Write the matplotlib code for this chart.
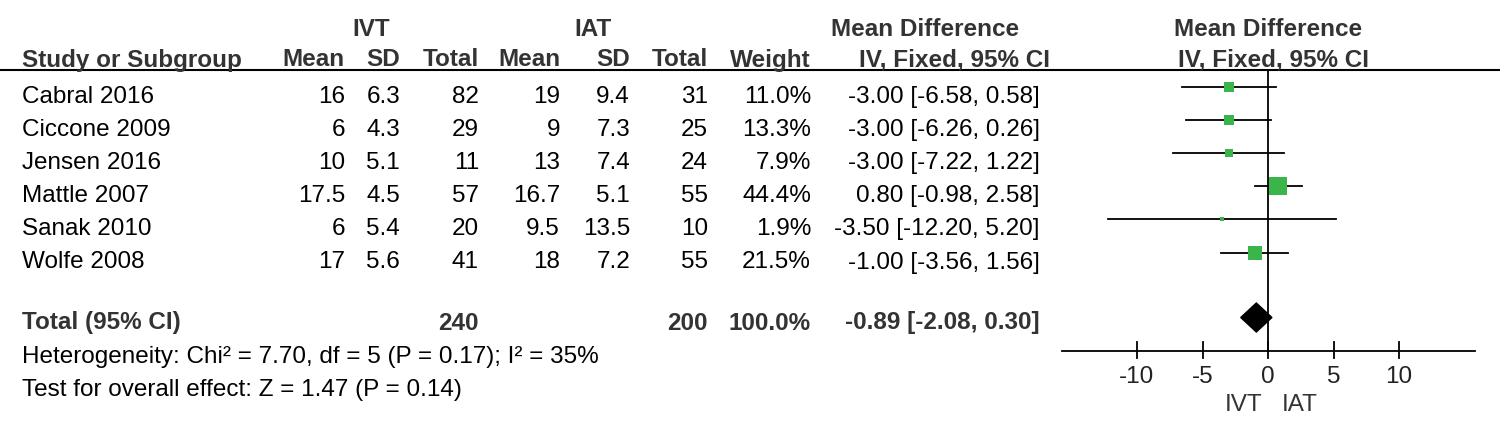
import matplotlib.pyplot as plt
from matplotlib.patches import Polygon

plt.rcParams['font.family'] = ['Liberation Sans', 'DejaVu Sans']

# === Data ===
studies = ["Cabral 2016", "Ciccone 2009", "Jensen 2016", "Mattle 2007", "Sanak 2010", "Wolfe 2008"]
ivt_mean = ["16", "6", "10", "17.5", "6", "17"]
ivt_sd = ["6.3", "4.3", "5.1", "4.5", "5.4", "5.6"]
ivt_total = [82, 29, 11, 57, 20, 41]
iat_mean = ["19", "9", "13", "16.7", "9.5", "18"]
iat_sd = ["9.4", "7.3", "7.4", "5.1", "13.5", "7.2"]
iat_total = [31, 25, 24, 55, 10, 55]
weight = [11.0, 13.3, 7.9, 44.4, 1.9, 21.5]
md = [-3.00, -3.00, -3.00, 0.80, -3.50, -1.00]
ci_lo = [-6.58, -6.26, -7.22, -0.98, -12.20, -3.56]
ci_hi = [0.58, 0.26, 1.22, 2.58, 5.20, 1.56]

total_md, total_lo, total_hi = -0.89, -2.08, 0.30
heterogeneity = "Heterogeneity: Chi² = 7.70, df = 5 (P = 0.17); I² = 35%"
overall = "Test for overall effect: Z = 1.47 (P = 0.14)"
x_ticks = [-10, -5, 0, 5, 10]

# === Figure (pixel-coordinate table axes) ===
W, H = 1500, 429
fig = plt.figure(figsize=(W / 100, H / 100), dpi=100)
ax = fig.add_axes([0, 0, 1, 1])
ax.set_xlim(0, W)
ax.set_ylim(H, 0)
ax.axis('off')

fs = 17.5
hdr = '#333333'
bold = dict(fontsize=fs, fontweight='bold', color=hdr, va='center')
reg = dict(fontsize=fs, color='black', va='center')

# === Headers ===
ax.text(371, 29, "IVT", ha='center', **bold)
ax.text(593, 29, "IAT", ha='center', **bold)
ax.text(925, 29, "Mean Difference", ha='center', **bold)
ax.text(1268, 29, "Mean Difference", ha='center', **bold)

ax.text(22, 60, "Study or Subgroup", ha='left', **bold)
col_right = [345, 400, 479, 560, 630, 708, 811]
for x, lab in zip(col_right, ["Mean", "SD", "Total", "Mean", "SD", "Total", "Weight"]):
    ax.text(x, 60, lab, ha='right', **bold)
ax.text(1050, 60, "IV, Fixed, 95% CI", ha='right', **bold)
ax.text(1274, 60, "IV, Fixed, 95% CI", ha='center', **bold)
ax.plot([0, W], [69.5, 69.5], color='black', lw=1.5)

# === Study rows ===
row0, step = 97, 33.1
for i, s in enumerate(studies):
    y = row0 + i * step
    ax.text(22, y, s, ha='left', **reg)
    vals = [ivt_mean[i], ivt_sd[i], ivt_total[i], iat_mean[i], iat_sd[i],
            iat_total[i], f"{weight[i]:.1f}%"]
    for x, v in zip(col_right, vals):
        ax.text(x, y, str(v), ha='right', **reg)
    ax.text(1040, y, f"{md[i]:.2f} [{ci_lo[i]:.2f}, {ci_hi[i]:.2f}]", ha='right', **reg)

# === Total row + footer ===
ty = 323
ax.text(22, ty, "Total (95% CI)", ha='left', **bold)
ax.text(col_right[2], ty, str(sum(ivt_total)), ha='right', **bold)
ax.text(col_right[5], ty, str(sum(iat_total)), ha='right', **bold)
ax.text(col_right[6], ty, "100.0%", ha='right', **bold)
ax.text(1040, ty, f"{total_md:.2f} [{total_lo:.2f}, {total_hi:.2f}]", ha='right', **bold)
ax.text(22, 357, heterogeneity, ha='left', **reg)
ax.text(22, 390, overall, ha='left', **reg)

# === Forest plot axes (x in mean difference units, y in pixels) ===
px_per_unit = 13.1
zero_px = 1268
xmin, xmax = -16, 16
fax = fig.add_axes([(zero_px + xmin * px_per_unit) / W, 0,
                    (xmax - xmin) * px_per_unit / W, 1])
fax.set_xlim(xmin, xmax)
fax.set_ylim(H, 0)
fax.axis('off')
fax.patch.set_alpha(0)

axis_y = 350.5
fax.plot([0, 0], [69.5, axis_y], color='black', lw=1.3)

green = '#39b54a'
frow0 = 87
for i in range(len(studies)):
    y = frow0 + i * step
    fax.plot([ci_lo[i], ci_hi[i]], [y, y], color='black', lw=1.3, zorder=2)
    side = 2.85 * weight[i] ** 0.5
    fax.plot(md[i], y, marker='s', ms=max(side, 5) * 0.72, color=green,
             mec=green, mew=0, zorder=3)

dy = 14.5
dc = 317.5
fax.add_patch(Polygon([[total_lo, dc], [total_md, dc - dy], [total_hi, dc], [total_md, dc + dy]],
                      closed=True, color='black', zorder=3))

# bottom axis
fax.plot([-15.7, 15.8], [axis_y, axis_y], color='black', lw=1.3)
for t in x_ticks:
    fax.plot([t, t], [342, 358], color='black', lw=1.3)
    fax.text(t, 377, f"{t}", ha='center', va='center', fontsize=fs, color='#222222')
fax.text(-0.45, 405, "IVT", ha='right', va='center', fontsize=fs, color='#333333')
fax.text(1.05, 405, "IAT", ha='left', va='center', fontsize=fs, color='#333333')

plt.savefig("out.png", dpi=100)
